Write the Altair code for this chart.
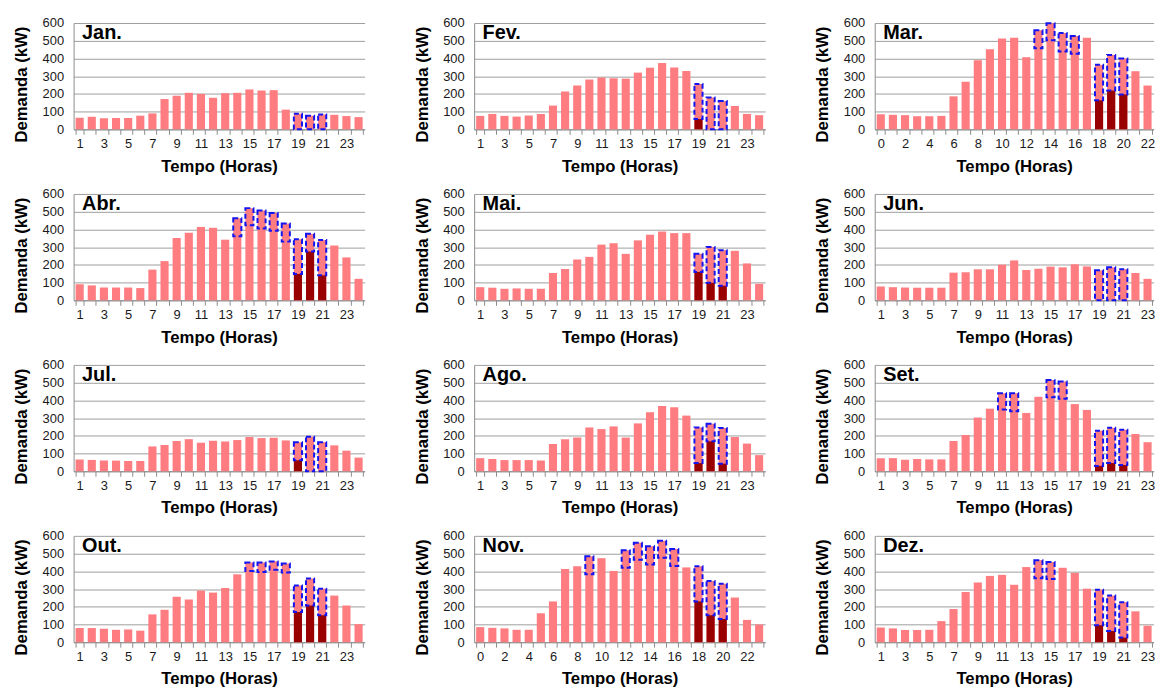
import altair as alt
import pandas as pd

FONT = "Liberation Sans, Arial, sans-serif"
PINK = "#ff7c80"
DARK = "#990000"
BLUE = "#1414f0"

months = ["Jan.", "Fev.", "Mar.", "Abr.", "Mai.", "Jun.",
          "Jul.", "Ago.", "Set.", "Out.", "Nov.", "Dez."]
hour_start = [1, 1, 0, 1, 1, 1, 1, 1, 1, 1, 0, 1]

# total demand (kW) per hour, as visible in the picture
jan = [65, 71, 62, 64, 64, 77, 90, 171, 189, 206, 200, 178, 204, 206, 225, 219, 221, 111, 88, 77, 84, 82, 75, 69]
fev = [76, 87, 76, 72, 78, 87, 134, 214, 247, 281, 292, 288, 286, 320, 348, 374, 349, 329, 256, 180, 160, 132, 87, 80]
mar = [85, 82, 80, 74, 74, 76, 186, 269, 390, 452, 513, 517, 407, 559, 598, 543, 526, 517, 364, 420, 400, 328, 247]
abr = [91, 84, 72, 72, 72, 69, 173, 221, 351, 381, 414, 409, 342, 463, 520, 506, 493, 433, 344, 375, 340, 309, 242, 121]
mai = [74, 71, 65, 67, 65, 65, 154, 177, 230, 245, 314, 322, 262, 338, 370, 388, 379, 379, 262, 301, 283, 279, 208, 93]
jun = [78, 74, 72, 71, 71, 71, 156, 158, 175, 175, 201, 225, 171, 178, 190, 186, 203, 191, 169, 186, 175, 154, 121]
jul = [67, 64, 60, 60, 58, 58, 140, 148, 170, 181, 161, 172, 168, 176, 193, 187, 189, 174, 163, 194, 164, 146, 116, 77]
ago = [74, 69, 63, 63, 63, 61, 154, 180, 191, 247, 238, 253, 190, 270, 333, 368, 361, 314, 247, 268, 244, 193, 156, 91]
set_ = [74, 74, 65, 69, 67, 67, 171, 204, 303, 353, 440, 440, 329, 420, 515, 507, 379, 346, 229, 245, 234, 210, 164]
out = [80, 80, 76, 70, 72, 65, 157, 183, 256, 241, 291, 280, 306, 383, 450, 450, 456, 444, 320, 359, 302, 263, 207, 102]
nov = [85, 81, 78, 70, 70, 163, 230, 413, 428, 485, 474, 402, 519, 561, 541, 572, 526, 422, 428, 346, 330, 252, 126, 100]
dez = [83, 78, 69, 69, 70, 119, 187, 283, 337, 374, 380, 324, 424, 463, 452, 420, 391, 302, 296, 263, 226, 174, 93]

# dashed boxes: hours and lower edge (upper edge = total)
jan_box_h, jan_box_lo = [19, 20, 21], [0, 0, 0]
fev_box_h, fev_box_lo = [19, 20, 21], [58, 0, 0]
mar_box_h, mar_box_lo = [13, 14, 15, 16, 18, 19, 20], [457, 502, 439, 427, 164, 219, 197]
abr_box_h, abr_box_lo = [14, 15, 16, 17, 18, 19, 20, 21], [362, 424, 405, 392, 331, 149, 275, 141]
mai_box_h, mai_box_lo = [19, 20, 21], [160, 99, 82]
jun_box_h, jun_box_lo = [19, 20, 21], [0, 0, 0]
jul_box_h, jul_box_lo = [19, 20, 21], [62, 0, 0]
ago_box_h, ago_box_lo = [19, 20, 21], [46, 169, 43]
set_box_h, set_box_lo = [11, 12, 15, 16, 19, 20, 21], [348, 338, 418, 409, 30, 46, 35]
out_box_h, out_box_lo = [15, 16, 17, 18, 19, 20, 21], [402, 396, 409, 393, 170, 207, 152]
nov_box_h, nov_box_lo = [9, 12, 13, 14, 15, 16, 18, 19, 20], [383, 420, 465, 439, 476, 430, 230, 152, 131]
dez_box_h, dez_box_lo = [14, 15, 19, 20, 21], [361, 356, 96, 63, 26]

# dark red bars (remaining demand in peak hours)
jan_dark_h, jan_dark = [], []
fev_dark_h, fev_dark = [19], [58]
mar_dark_h, mar_dark = [18, 19, 20], [164, 219, 197]
abr_dark_h, abr_dark = [19, 20, 21], [149, 275, 141]
mai_dark_h, mai_dark = [19, 20, 21], [160, 99, 82]
jun_dark_h, jun_dark = [], []
jul_dark_h, jul_dark = [19], [62]
ago_dark_h, ago_dark = [19, 20, 21], [46, 169, 43]
set_dark_h, set_dark = [19, 20, 21], [30, 46, 35]
out_dark_h, out_dark = [19, 20, 21], [170, 207, 152]
nov_dark_h, nov_dark = [18, 19, 20], [230, 152, 131]
dez_dark_h, dez_dark = [19, 20, 21], [96, 63, 26]

totals = [jan, fev, mar, abr, mai, jun, jul, ago, set_, out, nov, dez]
boxes = [(jan_box_h, jan_box_lo), (fev_box_h, fev_box_lo), (mar_box_h, mar_box_lo),
         (abr_box_h, abr_box_lo), (mai_box_h, mai_box_lo), (jun_box_h, jun_box_lo),
         (jul_box_h, jul_box_lo), (ago_box_h, ago_box_lo), (set_box_h, set_box_lo),
         (out_box_h, out_box_lo), (nov_box_h, nov_box_lo), (dez_box_h, dez_box_lo)]
darks = [(jan_dark_h, jan_dark), (fev_dark_h, fev_dark), (mar_dark_h, mar_dark),
         (abr_dark_h, abr_dark), (mai_dark_h, mai_dark), (jun_dark_h, jun_dark),
         (jul_dark_h, jul_dark), (ago_dark_h, ago_dark), (set_dark_h, set_dark),
         (out_dark_h, out_dark), (nov_dark_h, nov_dark), (dez_dark_h, dez_dark)]

y_ticks = [0, 100, 200, 300, 400, 500, 600]
STEP = 12.2
H = 107


def panel(name, start, tot, box, dark):
    hours = list(range(start, start + len(tot)))
    width = round(STEP * len(hours), 1)
    tmap = dict(zip(hours, tot))
    df_tot = pd.DataFrame({"h": hours, "v": tot})
    df_box = pd.DataFrame({"h": box[0], "lo": box[1], "v": [tmap[h] for h in box[0]]})
    df_dark = pd.DataFrame({"h": dark[0], "v": dark[1]})
    parity = 1 if start == 1 else 0
    x = alt.X("h:O",
              scale=alt.Scale(domain=hours, paddingInner=0.33, paddingOuter=0.165),
              axis=alt.Axis(title="Tempo (Horas)", labelAngle=0, tickBand="extent",
                            labelExpr=f"datum.value % 2 == {parity} ? datum.label : ''",
                            labelOverlap=False, grid=False, ticks=True, tickSize=5,
                            tickColor="#8c8c8c", domainColor="#8c8c8c", labelPadding=3,
                            titleY=42, titleBaseline="alphabetic"))
    yax = alt.Axis(title="Demanda (kW)", values=y_ticks, grid=True, gridColor="#9e9e9e",
                   ticks=False, domain=True, domainColor="#8c8c8c", labelPadding=10,
                   titleX=-47, titleY=61.5, titleBaseline="alphabetic")
    ysc = alt.Scale(domain=[0, 600], nice=False)
    base = alt.Chart(df_tot).mark_bar(color=PINK).encode(
        x=x, y=alt.Y("v:Q", scale=ysc, axis=yax))
    layers = [base]
    if len(df_dark):
        layers.append(alt.Chart(df_dark).mark_bar(color=DARK).encode(
            x=x, y=alt.Y("v:Q", scale=ysc, axis=yax)))
    layers.append(alt.Chart(df_box).mark_bar(fillOpacity=0, stroke=BLUE, strokeWidth=2,
                                             strokeDash=[5, 3]).encode(
        x=x, y=alt.Y("lo:Q", scale=ysc, axis=yax), y2="v:Q"))
    layers.append(alt.Chart(pd.DataFrame({"t": [name]})).mark_text(
        align="left", baseline="alphabetic", fontSize=20, fontWeight="bold",
        font=FONT, color="black").encode(x=alt.value(8.5), y=alt.value(16), text="t:N"))
    return alt.layer(*layers).properties(width=width, height=H)


panels = [panel(m, s, t, b, d) for m, s, t, b, d in zip(months, hour_start, totals, boxes, darks)]

chart = alt.concat(*panels, columns=3, spacing={"row": 65, "column": 110}).properties(
    bounds="flush",
    padding={"left": 5, "top": 7, "right": 0, "bottom": 0},
).configure_view(stroke=None).configure_axis(
    labelFont=FONT, titleFont=FONT, labelFontSize=13, labelColor="#1a1a1a",
    titleFontSize=16.8, titleFontWeight="bold", titleColor="black",
)

chart.save("out.html", embed_options={"renderer": "svg", "actions": False})
